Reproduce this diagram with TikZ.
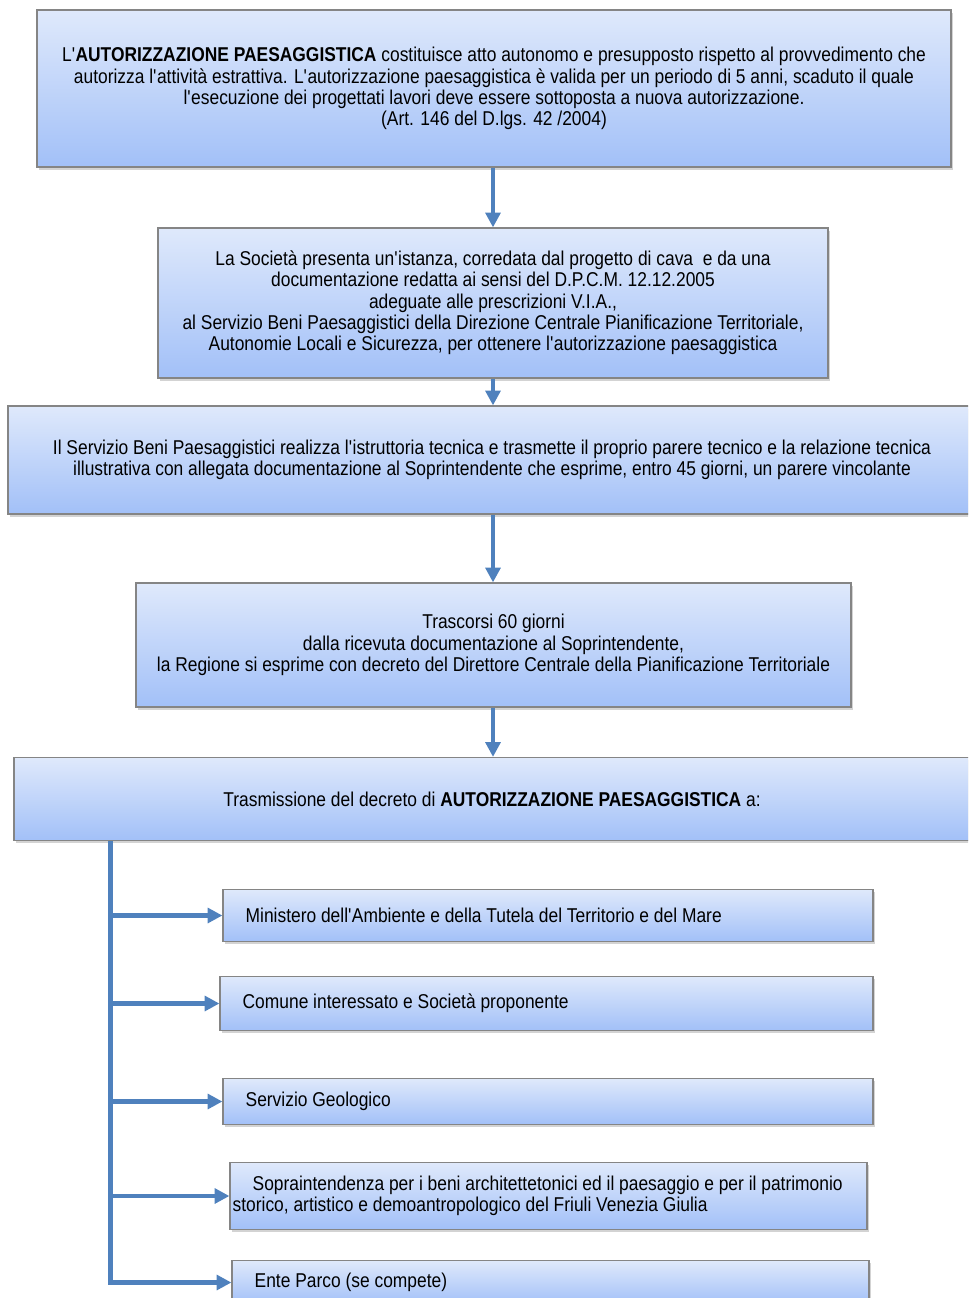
\documentclass[tikz,border=0pt]{standalone}
\usepackage{fontspec}
\newfontfamily\narrowfont[FakeStretch=0.87]{Liberation Sans}
\definecolor{PAboxtop}{HTML}{DFE9FB}
\definecolor{PAboxbot}{HTML}{A2C0F8}
\definecolor{PAborder}{HTML}{858585}
\definecolor{PAarrow}{HTML}{4F81BD}
\usetikzlibrary{arrows.meta, shadows, calc}
\newcommand{\ap}{\textquotesingle}
\tikzset{
   box/.style={draw=PAborder, line width=0.9pt,
      top color=PAboxtop, bottom color=PAboxbot,
      drop shadow={opacity=0.35, shadow xshift=1.5pt, shadow yshift=-2pt},
      font=\narrowfont\fontsize{15pt}{16pt}\selectfont,
      align=center, inner sep=2pt},
   destbox/.style={box, align=flush left, inner xsep=17pt},
   conn/.style={PAarrow, line width=3.4pt, -{Triangle[length=11pt,width=11pt]}}
}

\begin{document}
\begin{tikzpicture}[x=0.75pt, y=-0.75pt]
            \useasboundingbox (0,0) rectangle (968,1298);
            \clip (0,0) rectangle (968,1298);
            % Main steps
            \node[box, minimum width=685.5pt, minimum height=117.75pt] (autoriz) at (494,88.5)
               {L\ap\textbf{AUTORIZZAZIONE PAESAGGISTICA} costituisce atto autonomo e presupposto rispetto al provvedimento che\\
                autorizza l\ap attività estrattiva. L\ap autorizzazione paesaggistica è valida per un periodo di 5 anni, scaduto il quale\\
                l\ap esecuzione dei progettati lavori deve essere sottoposta a nuova autorizzazione.\\
                (Art. 146 del D.lgs. 42 /2004)};
            \node[box, minimum width=502.5pt, minimum height=112.5pt] (istanza) at (493,303)
               {La Società presenta un\ap istanza, corredata dal progetto di cava \ e da una\\
                documentazione redatta ai sensi del D.P.C.M. 12.12.2005\\
                adeguate alle prescrizioni V.I.A.,\\
                al Servizio Beni Paesaggistici della Direzione Centrale Pianificazione Territoriale,\\
                Autonomie Locali e Sicurezza, per ottenere l\ap autorizzazione paesaggistica};
            \node[box, minimum width=726pt, minimum height=81pt] (istrutt) at (492,460)
               {Il Servizio Beni Paesaggistici realizza l\ap istruttoria tecnica e trasmette il proprio parere tecnico e la relazione tecnica\\
                illustrativa con allegata documentazione al Soprintendente che esprime, entro 45 giorni, un parere vincolante};
            \node[box, minimum width=536.25pt, minimum height=93pt] (trascorsi) at (493.5,645)
               {Trascorsi 60 giorni\\
                dalla ricevuta documentazione al Soprintendente,\\
                la Regione si esprime con decreto del Direttore Centrale della Pianificazione Territoriale};
            \node[box, minimum width=717pt, minimum height=62.25pt] (trasm) at (492,799)
               {Trasmissione del decreto di \textbf{AUTORIZZAZIONE PAESAGGISTICA} a:};
            % Recipients
            \node[destbox, text width=453.5pt, minimum height=39pt] (ministero) at (548,915.5)
               {Ministero dell\ap Ambiente e della Tutela del Territorio e del Mare};
            \node[destbox, text width=455.75pt, minimum height=40.5pt] (comune) at (546.5,1003.5)
               {Comune interessato e Società proponente};
            \node[destbox, text width=453.5pt, minimum height=34.5pt] (geologico) at (548,1101.5)
               {Servizio Geologico};
            \node[destbox, inner xsep=2pt, text width=473.75pt, minimum height=50.25pt] (soprint) at (548.5,1196)
               {\hspace*{15pt}Sopraintendenza per i beni architettetonici ed il paesaggio e per il patrimonio\\
                storico, artistico e demoantropologico del Friuli Venezia Giulia};
            \node[destbox, text width=443.75pt, minimum height=33pt] (parco) at (550.5,1282.5)
               {Ente Parco (se compete)};
            % Vertical flow
            \draw[conn] (autoriz.south -| istanza.north) -- (istanza.north);
            \draw[conn] (istanza.south) -- (istanza.south |- istrutt.north);
            \draw[conn] (istanza.south |- istrutt.south) -- (istanza.south |- trascorsi.north);
            \draw[conn] (trascorsi.south -| istanza.south) -- (istanza.south |- trasm.north);
            % Distribution trunk
            \coordinate (trunk) at ($(trasm.south west)+(97,0)$);
            \draw[conn] (trunk) |- (parco.west);
            \draw[conn] (trunk |- ministero.west) -- (ministero.west);
            \draw[conn] (trunk |- comune.west) -- (comune.west);
            \draw[conn] (trunk |- geologico.west) -- (geologico.west);
            \draw[conn] (trunk |- soprint.west) -- (soprint.west);
\end{tikzpicture}
\end{document}
